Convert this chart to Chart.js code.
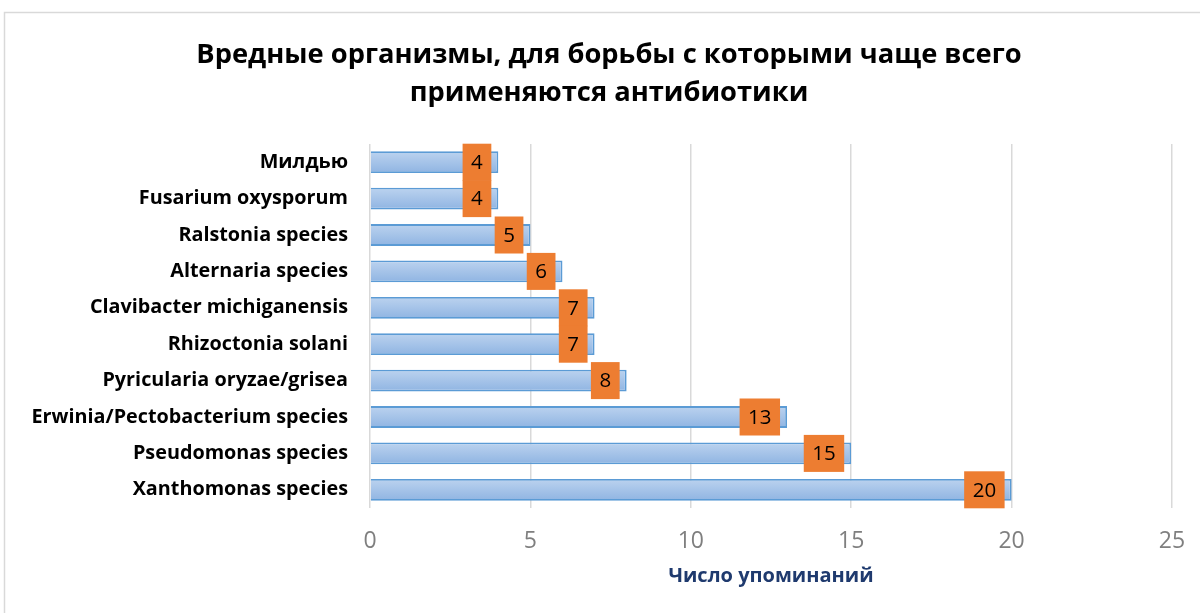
<!DOCTYPE html>
<html>
<head>
<meta charset="utf-8">
<script src="https://cdn.jsdelivr.net/npm/chart.js@4/dist/chart.umd.min.js"></script>
<style>
html,body{margin:0;padding:0;background:#fff;}
#wrap{position:relative;width:1200px;height:613px;}
</style>
</head>
<body>
<div id="wrap"><canvas id="c" width="1200" height="613"></canvas></div>
<script>
const categories = ["Милдью","Fusarium oxysporum","Ralstonia species","Alternaria species","Clavibacter michiganensis","Rhizoctonia solani","Pyricularia oryzae/grisea","Erwinia/Pectobacterium species","Pseudomonas species","Xanthomonas species"];
const mentions = [4,4,5,6,7,7,8,13,15,20];
const titleLines = ["Вредные организмы, для борьбы с которыми чаще всего","применяются антибиотики"];
const xAxisTitle = "Число упоминаний";
const xTicks = [0,5,10,15,20,25];

const FONT = "'Open Sans', 'Noto Sans', sans-serif";

const frame = {
  id:'frame',
  afterLayout(chart){
    // let the category labels use the full left margin
    const y = chart.scales.y;
    y.left = 0;
    y.width = y.right - y.left;
  },
  beforeDraw(chart){
    const c = chart.ctx;
    c.save();
    c.strokeStyle = '#d9d9d9';
    c.lineWidth = 1.5;
    c.beginPath();
    c.moveTo(4.5, 613);
    c.lineTo(4.5, 12.5);
    c.lineTo(1200, 12.5);
    c.stroke();
    c.restore();
  }
};

const labelBoxes = {
  id:'labelBoxes',
  afterDatasetsDraw(chart){
    const c = chart.ctx;
    const meta = chart.getDatasetMeta(0);
    c.save();
    c.font = "20.5px " + FONT;
    c.textAlign = 'center';
    c.textBaseline = 'middle';
    meta.data.forEach((bar, i) => {
      const txt = String(chart.data.datasets[0].data[i]);
      const tw = c.measureText(txt).width;
      const w = tw + 17;
      const h = 37;
      const right = bar.x - 7;
      const left = right - w;
      c.fillStyle = '#ED7D31';
      c.fillRect(left, bar.y - h/2, w, h);
      c.fillStyle = '#000';
      c.fillText(txt, left + w/2, bar.y + 1);
    });
    c.restore();
  }
};

new Chart(document.getElementById('c'), {
  type:'bar',
  data:{
    labels: categories,
    datasets:[{
      data: mentions,
      backgroundColor(ctx){
        const chart = ctx.chart;
        if (!chart.chartArea || !chart.scales.y) return '#a7c4e8';
        const y = chart.scales.y.getPixelForTick(ctx.dataIndex);
        const g = chart.ctx.createLinearGradient(0, y - 11, 0, y + 11);
        g.addColorStop(0, '#bcd3ef');
        g.addColorStop(1, '#8fb4e2');
        return g;
      },
      borderColor:'#5b9bd5',
      borderWidth:1.8,
      borderSkipped:'start',
      barPercentage:0.6,
      categoryPercentage:1
    }]
  },
  options:{
    indexAxis:'y',
    responsive:false,
    animation:false,
    layout:{padding:{left:46,right:28,top:0,bottom:0}},
    plugins:{
      legend:{display:false},
      tooltip:{enabled:false},
      title:{
        display:true,
        text:titleLines,
        color:'#000',
        font:{family:FONT,size:27.3,weight:'bold',lineHeight:1.392},
        padding:{top:36,bottom:32}
      }
    },
    scales:{
      x:{
        min:0,max:25,
        afterBuildTicks(s){ s.ticks = xTicks.map(v=>({value:v})); },
        grid:{color:'#d9d9d9',lineWidth:1.5,drawTicks:false},
        border:{display:false},
        ticks:{color:'#7f7f7f',font:{family:FONT,size:23},padding:20},
        title:{display:true,text:xAxisTitle,color:'#1f3a6e',font:{family:FONT,size:20,weight:'bold',lineHeight:1.2},padding:{top:0,bottom:25}},
        afterFit(s){ s.height = 105; s.paddingLeft = 0; s.paddingRight = 0; }
      },
      y:{
        grid:{display:false,drawTicks:false},
        border:{display:false},
        ticks:{color:'#000',font:{family:FONT,size:19.8,weight:'bold'},padding:22},
        afterFit(s){ s.width = 324; }
      }
    }
  },
  plugins:[frame,labelBoxes]
});
</script>
</body>
</html>
